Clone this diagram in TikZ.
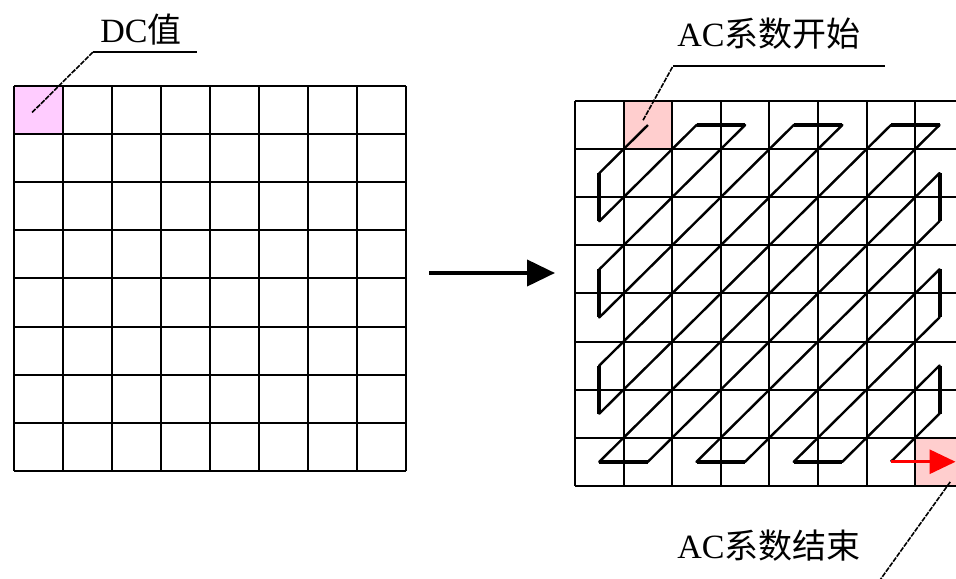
\documentclass[tikz,border=0pt]{standalone}
\usepackage{fontspec}
\setmainfont{Liberation Serif}
\newfontfamily\cjk{Noto Sans CJK SC}
\usepackage{tikz}
\usetikzlibrary{arrows.meta,calc}
\definecolor{dcpink}{RGB}{255,204,255}
\definecolor{acpink}{RGB}{255,206,206}

\begin{document}
\begin{tikzpicture}[x=0.5pt,y=-0.5pt,
  gridline/.style={line width=1pt},
  zig/.style={line width=1.2pt,line join=round},
  zigbold/.style={line width=2pt},
  leader/.style={line width=0.8pt,dash pattern=on 2.5pt off 0.6pt},
  underline/.style={line width=0.8pt},
  txt/.style={inner sep=0pt,font=\fontsize{17pt}{20pt}\selectfont}]
  \useasboundingbox (0,0) rectangle (956,578);
  \clip (0,0) rectangle (956,578);

  % 左のブロック (DC値)
  \begin{scope}[shift={(14,86)},x=24.5pt,y=-24.05pt]
    \fill[dcpink] (0,0) rectangle (1,1);
    \foreach \i in {0,...,8} {
      \draw[gridline] (\i,0) -- (\i,8);
      \draw[gridline] (0,\i) -- (8,\i);
    }
    \coordinate (dc-p) at (0.37,0.55);
  \end{scope}

  % 右のブロック (ジグザグ走査)
  \begin{scope}[shift={(575,101)},x=24.3pt,y=-24.05pt]
    \fill[acpink] (1,0) rectangle (2,1);
    \fill[acpink] (7,7) rectangle (8,8);
    \foreach \i in {0,...,8} {
      \draw[gridline] (\i,0) -- (\i,8);
      \draw[gridline] (0,\i) -- (8,\i);
    }
    \draw[zig] (1.5,.5) -- (.5,1.5) -- (.5,2.5) -- (2.5,.5) -- (3.5,.5) -- (.5,3.5)
      -- (.5,4.5) -- (4.5,.5) -- (5.5,.5) -- (.5,5.5) -- (.5,6.5) -- (6.5,.5)
      -- (7.5,.5) -- (.5,7.5) -- (1.5,7.5) -- (7.5,1.5) -- (7.5,2.5) -- (2.5,7.5)
      -- (3.5,7.5) -- (7.5,3.5) -- (7.5,4.5) -- (4.5,7.5) -- (5.5,7.5) -- (7.5,5.5)
      -- (7.5,6.5) -- (6.5,7.5);
    \foreach \k in {1,3,5} {
      \draw[zigbold] (.5,\k+.5) -- (.5,\k+1.5);
      \draw[zigbold] (7.5,\k+.5) -- (7.5,\k+1.5);
    }
    \foreach \k in {0,2,4} \draw[zigbold] (\k+.5,7.5) -- (\k+1.5,7.5);
    \foreach \k in {2,4,6} \draw[zigbold] (\k+.5,.5) -- (\k+1.5,.5);
    \coordinate (ac-last) at (6.5,7.5);
    \coordinate (ac-tip) at (7.83,7.5);
    \coordinate (acs-p) at (1.4,0.4);
    \coordinate (ace-p) at (7.72,7.92);
  \end{scope}
  \draw[red,line width=1.5pt,-{Triangle[length=13pt,width=12pt]}] (ac-last) -- (ac-tip);

  % 変換の矢印
  \coordinate (arr-s) at (429,273);
  \coordinate (arr-e) at (555,273);
  \draw[line width=2pt,-{Triangle[length=14pt,width=13pt]}] (arr-s) -- (arr-e);

  % ラベル
  \node[txt] (dc) at (141,30) {DC{\cjk 值}};
  \coordinate (dc-u) at (93,52);
  \coordinate (dc-v) at (197,52);
  \draw[underline] (dc-u) -- (dc-v);
  \draw[leader] (dc-p) -- (dc-u);

  \node[txt] (acs) at (769,34) {AC{\cjk 系数开始}};
  \coordinate (acs-u) at (673,66);
  \coordinate (acs-v) at (885,66);
  \draw[underline] (acs-u) -- (acs-v);
  \draw[leader] (acs-p) -- (acs-u);

  \node[txt] (ace) at (769,546) {AC{\cjk 系数结束}};
  \coordinate (ace-e) at (880,580);
  \draw[leader] (ace-p) -- (ace-e);
\end{tikzpicture}
\end{document}
